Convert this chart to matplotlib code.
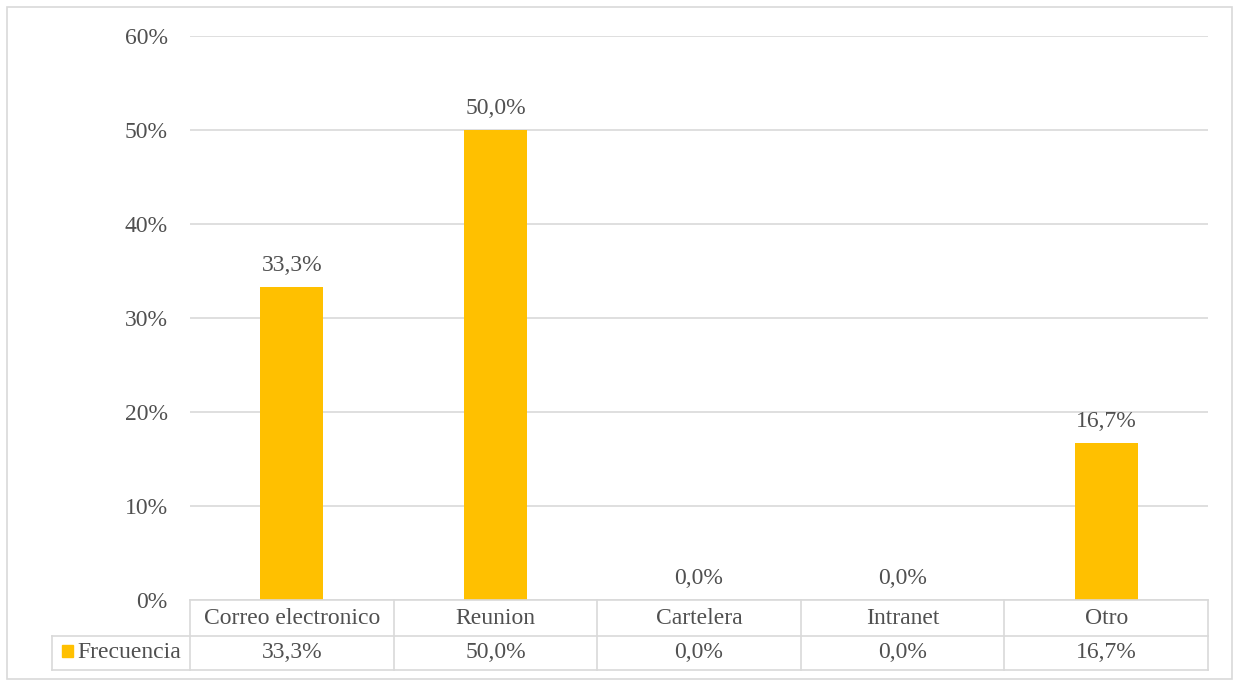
"""Bar chart with Excel-style data table: Frecuencia by communication channel."""

import matplotlib

matplotlib.use("Agg")
import matplotlib.pyplot as plt
from matplotlib.lines import Line2D
from matplotlib.patches import Rectangle

categories = ["Correo electronico", "Reunion", "Cartelera", "Intranet", "Otro"]
frecuencia = [33.3, 50.0, 0.0, 0.0, 16.7]
series_name = "Frecuencia"
y_ticks = [0, 10, 20, 30, 40, 50, 60]

BAR = "#FFC000"
TXT = "#505050"
GRID = "#D9D9D9"
FS = 17

plt.rcParams["font.family"] = ["Liberation Serif", "DejaVu Serif"]

W, H = 1240, 680
fig = plt.figure(figsize=(W / 100, H / 100), dpi=100)


def fx(px):
    return px / W


def fy(py):
    return 1 - py / H


left, right, top, bottom = 190, 1208, 36, 600
ax = fig.add_axes([fx(left), fy(bottom), fx(right - left), (bottom - top) / H])

x = range(len(categories))
ax.bar(x, frecuencia, width=0.31, color=BAR, zorder=3)
ax.set_xlim(-0.5, len(categories) - 0.5)
ax.set_ylim(0, 60)
ax.set_yticks(y_ticks)
ax.set_yticklabels([f"{t}%" for t in y_ticks], color=TXT, fontsize=FS)
ax.set_xticks([])
ax.tick_params(axis="y", length=0, pad=16)
ax.grid(axis="y", color=GRID, linewidth=1.2, zorder=0)
for s in ax.spines.values():
    s.set_visible(False)


def fmt(v):
    return f"{v:.1f}%".replace(".", ",")


for i, v in enumerate(frecuencia):
    ax.annotate(fmt(v), (i, v), xytext=(0, 8), textcoords="offset points",
                ha="center", va="bottom", color=TXT, fontsize=FS)

# data table below the plot
row1, row2, row3 = 600, 636, 670
legend_left = 52
col_w = (right - left) / len(categories)
lines = [
    ((left, right), (row1, row1)),
    ((legend_left, right), (row2, row2)),
    ((legend_left, right), (row3, row3)),
    ((legend_left, legend_left), (row2, row3)),
]
for i in range(len(categories) + 1):
    xx = left + i * col_w
    lines.append(((xx, xx), (row1, row3)))
for (xs, ys) in lines:
    fig.add_artist(Line2D([fx(xs[0]), fx(xs[1])], [fy(ys[0]), fy(ys[1])],
                          color=GRID, linewidth=1.2))

for i, (cat, v) in enumerate(zip(categories, frecuencia)):
    cx = left + (i + 0.5) * col_w
    fig.text(fx(cx), fy((row1 + row2) / 2), cat, ha="center", va="center",
             color=TXT, fontsize=FS)
    fig.text(fx(cx), fy((row2 + row3) / 2), fmt(v), ha="center", va="center",
             color=TXT, fontsize=FS)

fig.add_artist(Rectangle((fx(62), fy(657)), fx(11), 12 / H, color=BAR,
                         transform=fig.transFigure))
fig.text(fx(77), fy((row2 + row3) / 2), series_name, ha="left", va="center",
         color=TXT, fontsize=FS)

# chart area border
fig.add_artist(Rectangle((fx(7), fy(679)), fx(1225), 672 / H, fill=False,
                         edgecolor=GRID, linewidth=1.2, transform=fig.transFigure))

fig.savefig("out.png", dpi=100)
